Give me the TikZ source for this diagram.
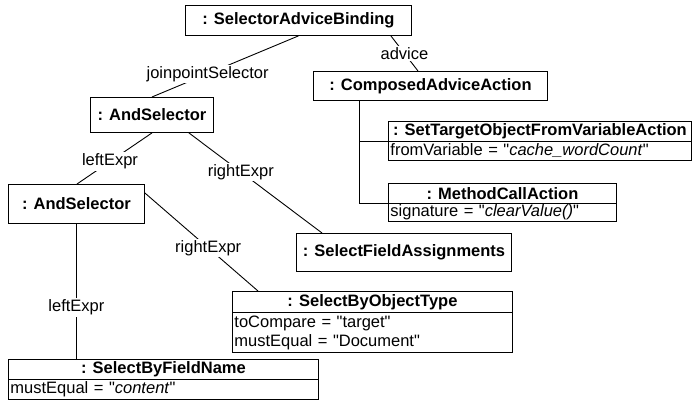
\documentclass[tikz,border=0pt]{standalone}
\usepackage{fontspec}
\setmainfont{Liberation Sans}
\newcommand{\qd}{\textquotedbl}
\begin{document}
\begin{tikzpicture}[x=1pt,y=-1pt,
  base/.style={font=\fontsize{16.5}{19}\selectfont, inner sep=0pt},
  obj/.style={base, draw, line width=0.9pt, fill=white, anchor=north west, font=\fontsize{16.5}{19}\selectfont\bfseries},
  attr/.style={base, draw, line width=0.9pt, fill=white, anchor=north west, align=left, inner xsep=2pt},
  lbl/.style={base, fill=white, inner sep=1.5pt},
  conn/.style={line width=0.9pt}]
\useasboundingbox (0,0) rectangle (692,401);

% simple objects
\node[obj, minimum width=226pt, minimum height=30pt] (sab) at (185,5) {: SelectorAdviceBinding};
\node[obj, minimum width=234pt, minimum height=29pt] (caa) at (313,71) {: ComposedAdviceAction};
\node[obj, minimum width=123pt, minimum height=35pt] (and1) at (90,97) {: AndSelector};
\node[obj, minimum width=136pt, minimum height=39pt] (and2) at (8,184) {: AndSelector};
\node[obj, minimum width=215pt, minimum height=38pt] (sfa) at (296,233) {: SelectFieldAssignments};

% objects with attributes
\node[obj, minimum width=303pt, minimum height=20pt] (sthead) at (388,121) {: SetTargetObjectFromVariableAction};
\node[attr, text width=299pt, minimum height=19pt] (stattr) at (388,141) {fromVariable = \qd\textit{cache\_wordCount}\qd};

\node[obj, minimum width=228pt, minimum height=20pt] (mchead) at (388,183) {: MethodCallAction};
\node[attr, text width=224pt, minimum height=18pt] (mcattr) at (388,203) {signature = \qd\textit{clearValue()}\qd};

\node[obj, minimum width=280pt, minimum height=21pt] (sbhead) at (232,291) {: SelectByObjectType};
\node[attr, text width=276pt, minimum height=40pt] (sbattr) at (232,312) {toCompare = \qd target\qd\\mustEqual = \qd Document\qd};

\node[obj, minimum width=310pt, minimum height=20pt] (fnhead) at (8,359) {: SelectByFieldName};
\node[attr, text width=306pt, minimum height=20pt] (fnattr) at (8,379) {mustEqual = \qd\textit{content}\qd};

% connectors
\draw[conn] (sab.south) -- (and1.north) node[lbl, pos=0.62] {joinpointSelector};
\draw[conn] ([xshift=-21pt]sab.south east) -- ([xshift=105pt]caa.north west) node[lbl, pos=0.5] {advice};
\draw[conn] ([xshift=62pt]and1.south west) -- ([xshift=69pt]and2.north west) node[lbl, pos=0.56] {leftExpr};
\draw[conn] ([xshift=-25pt]and1.south east) -- ([xshift=26pt]sfa.north west) node[lbl, pos=0.39] {rightExpr};
\draw[conn] ([yshift=-9pt]and2.north east) -- ([xshift=26pt]sbhead.north west) node[lbl, pos=0.56] {rightExpr};
\draw[conn] (and2.south) -- (and2.south |- fnhead.north) node[lbl, pos=0.62] {leftExpr};

\coordinate (trunk) at ([xshift=46pt]caa.south west);
\draw[conn] (trunk) |- (sthead.south west);
\draw[conn] (trunk) |- (mchead.south west);
\end{tikzpicture}
\end{document}
